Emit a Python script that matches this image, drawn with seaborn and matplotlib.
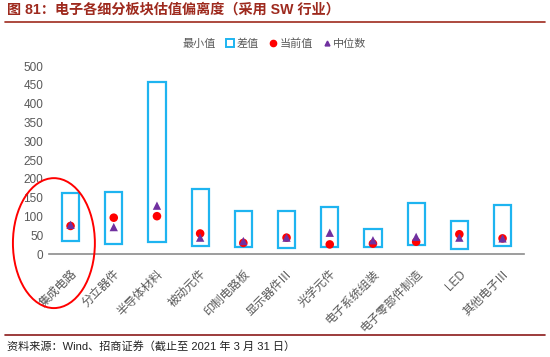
import matplotlib
matplotlib.use("Agg")
import matplotlib.pyplot as plt
from matplotlib.patches import Ellipse, Patch
from matplotlib.lines import Line2D
import numpy as np
import pandas as pd
import seaborn as sns

# data (PE band per SW sub-sector)
sectors = ["集成电路", "分立器件", "半导体材料", "被动元件", "印制电路板", "显示器件Ⅲ",
           "光学元件", "电子系统组装", "电子零部件制造", "LED", "其他电子Ⅲ"]
min_vals = [36, 27, 32, 21, 19, 16, 19, 18, 24, 14, 21]
max_vals = [163, 165, 457, 172, 114, 114, 126, 68, 137, 87, 132]
current_vals = [75, 97, 101, 55, 30, 44, 26, 28, 33, 53, 42]
median_vals = [78, 72, 129, 44, 35, 44, 57, 37, 46, 44, 42]

BLUE = "#1EB4F0"
RED = "#FF0000"
PURPLE = "#7030A0"
GREY = "#595959"
BRICK = "#9E2A1E"

sns.set_style("white")
plt.rcParams["font.family"] = ["Liberation Sans", "Noto Sans CJK SC", "DejaVu Sans"]

df = pd.DataFrame({
    "sector": sectors,
    "min": min_vals,
    "diff": np.array(max_vals) - np.array(min_vals),
    "current": current_vals,
    "median": median_vals,
})

fig = plt.figure(figsize=(5.5, 3.57), dpi=100)
ax = fig.add_axes([0.089, 0.288, 0.864, 0.527])

# difference box, lifted onto the min value
sns.barplot(data=df, x="sector", y="diff", fill=False, width=0.4,
            edgecolor=BLUE, linewidth=1.6, ax=ax, errorbar=None)
for patch, lo in zip(ax.patches, df["min"]):
    patch.set_y(lo)

sns.scatterplot(data=df, x="sector", y="current", color=RED, s=38,
                marker="o", edgecolor="none", ax=ax, zorder=3)
sns.scatterplot(data=df, x="sector", y="median", color=PURPLE, s=36,
                marker="^", edgecolor="none", ax=ax, zorder=4)

ax.set_xlim(-0.5, len(sectors) - 0.5)
ax.set_ylim(0, 500)
ax.set_yticks(range(0, 501, 50))
ax.set_xlabel("")
ax.set_ylabel("")
for s in ["top", "right", "left"]:
    ax.spines[s].set_visible(False)
ax.spines["bottom"].set_color("#8C8C8C")
ax.spines["bottom"].set_linewidth(1.2)
ax.tick_params(axis="y", length=0, labelsize=8.5, labelcolor=GREY, pad=4)
ax.tick_params(axis="x", which="major", length=0, labelsize=8.5, labelcolor=GREY, pad=10)
ax.set_xticks(np.arange(-0.5, len(sectors)), minor=True)
ax.tick_params(axis="x", which="minor", length=3, color="#8C8C8C", direction="out")
plt.setp(ax.get_xticklabels(), rotation=45, ha="right", rotation_mode="anchor")

handles = [
    Patch(facecolor="none", edgecolor="none"),
    Patch(facecolor="none", edgecolor=BLUE, linewidth=1.4),
    Line2D([], [], marker="o", color=RED, linestyle="none", markersize=4.5),
    Line2D([], [], marker="^", color=PURPLE, linestyle="none", markersize=3.5),
]
leg = fig.legend(handles, ["最小值", "差值", "当前值", "中位数"], ncol=4,
                 loc="center", bbox_to_anchor=(0.49, 0.878), frameon=False,
                 fontsize=8, handlelength=0.7, handleheight=0.7,
                 handletextpad=0.25, columnspacing=0.9)
for t in leg.get_texts():
    t.set_color(GREY)

# highlight the first sector
fig.patches.append(Ellipse((0.098, 0.319), 0.149, 0.364, transform=fig.transFigure,
                           fill=False, edgecolor=RED, linewidth=1.4))

# header and footer in report style
fig.text(0.012, 0.972, "图 81：电子各细分板块估值偏离度（采用 SW 行业）", color=BRICK,
         fontsize=10.2, fontweight="bold", va="center", ha="left")
fig.add_artist(Line2D([0.009, 0.991], [0.938, 0.938], transform=fig.transFigure,
                      color=BRICK, linewidth=1.2))
fig.add_artist(Line2D([0.009, 0.991], [0.061, 0.061], transform=fig.transFigure,
                      color="#8B1A1A", linewidth=1.2))
fig.text(0.012, 0.028, "资料来源：Wind、招商证券（截止至 2021 年 3 月 31 日）", color="#222222",
         fontsize=8, va="center", ha="left")

fig.savefig("out.png", dpi=100)
